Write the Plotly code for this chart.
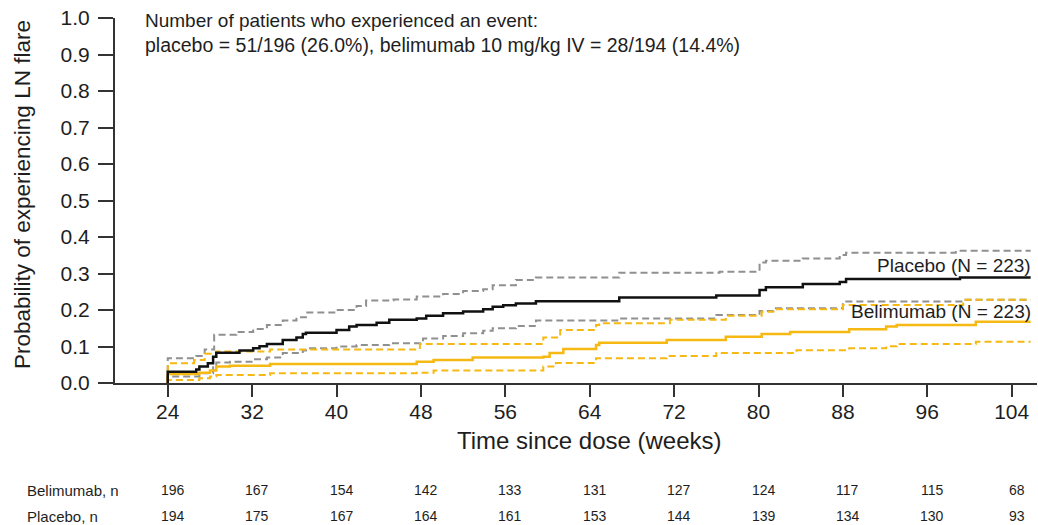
import plotly.graph_objects as go

# Kaplan-Meier cumulative probability of LN flare (step functions), weeks since dose
placebo_wk = [24, 24, 26.7, 27.0, 27.8, 28.3, 28.6, 30.8, 32.1, 32.7, 33.4, 34.9, 36.2, 36.8, 37.1,
              40.0, 41.2, 41.9, 43.8, 45.0, 47.6, 48.5, 50.1, 52.0, 53.9, 54.8, 55.8, 57.0, 58.9,
              66.8, 76.0, 80.1, 80.7, 84.2, 87.7, 88.3, 99.1, 105.8]
placebo_p = [0, 0.031, 0.037, 0.045, 0.054, 0.072, 0.083, 0.089, 0.095, 0.101, 0.107, 0.118, 0.125,
             0.134, 0.138, 0.145, 0.155, 0.159, 0.165, 0.173, 0.177, 0.184, 0.191, 0.196, 0.202,
             0.209, 0.213, 0.218, 0.224, 0.234, 0.240, 0.255, 0.262, 0.271, 0.277, 0.285, 0.289, 0.289]

placebo_hi_wk = [24, 24, 26.7, 27.5, 28.4, 30.5, 32.1, 33.4, 34.9, 36.2, 37.1, 40.0, 41.9, 42.8, 45.4,
                 47.6, 50.1, 52.0, 53.9, 54.8, 57.0, 58.9, 66.8, 76.3, 80.1, 80.7, 84.2, 87.7, 88.3,
                 98.7, 105.8]
placebo_hi_p = [0, 0.068, 0.074, 0.092, 0.132, 0.140, 0.148, 0.159, 0.171, 0.180, 0.193, 0.200, 0.211,
                0.226, 0.229, 0.237, 0.244, 0.252, 0.257, 0.268, 0.282, 0.289, 0.302, 0.305, 0.330,
                0.335, 0.341, 0.351, 0.357, 0.362, 0.362]

placebo_lo_wk = [24, 24, 27.0, 28.3, 28.6, 29.9, 32.1, 33.4, 34.9, 36.8, 37.1, 40.0, 41.9, 45.0, 48.2,
                 50.1, 52.0, 53.9, 54.8, 57.0, 58.9, 66.8, 76.0, 80.1, 81.4, 88.0, 99.4, 105.8]
placebo_lo_p = [0, 0.018, 0.027, 0.049, 0.056, 0.058, 0.065, 0.070, 0.082, 0.089, 0.095, 0.100, 0.104,
                0.109, 0.122, 0.129, 0.136, 0.143, 0.150, 0.156, 0.171, 0.177, 0.186, 0.197, 0.205,
                0.223, 0.228, 0.228]

belim_wk = [24, 24, 27.0, 28.0, 28.6, 29.9, 33.7, 47.6, 49.2, 52.9, 59.6, 60.2, 61.5, 64.6, 64.9,
            71.3, 76.9, 80.3, 83.0, 88.6, 92.1, 93.1, 100.6, 105.8]
belim_p = [0, 0.025, 0.028, 0.034, 0.045, 0.047, 0.052, 0.058, 0.063, 0.070, 0.072, 0.082, 0.093,
           0.104, 0.110, 0.118, 0.127, 0.134, 0.140, 0.147, 0.155, 0.159, 0.168, 0.168]

belim_hi_wk = [24, 24, 26.5, 27.5, 28.6, 33.7, 47.9, 59.6, 61.2, 64.6, 64.9, 71.6, 76.9, 80.3, 81.4,
               88.0, 99.4, 105.8]
belim_hi_p = [0, 0.054, 0.063, 0.080, 0.086, 0.092, 0.107, 0.125, 0.145, 0.159, 0.164, 0.173, 0.184,
              0.195, 0.202, 0.214, 0.228, 0.228]

belim_lo_wk = [24, 24, 27.0, 28.0, 28.6, 33.7, 47.6, 49.2, 59.6, 60.8, 64.6, 71.3, 76.0, 83.6, 88.6,
               92.1, 93.1, 100.6, 105.8]
belim_lo_p = [0, 0.008, 0.013, 0.018, 0.022, 0.027, 0.028, 0.034, 0.045, 0.055, 0.068, 0.074, 0.082,
              0.090, 0.095, 0.101, 0.107, 0.113, 0.113]

# Numbers at risk
risk_weeks = [24, 32, 40, 48, 56, 64, 72, 80, 88, 96, 104]
belim_n = [196, 167, 154, 142, 133, 131, 127, 124, 117, 115, 68]
placebo_n = [194, 175, 167, 164, 161, 153, 144, 139, 134, 130, 93]

ORANGE = "#F6B812"
GREY = "#909090"
BLACK = "#111111"
TEXT = "#1e1e1e"
FONT = "Liberation Sans, Arial, sans-serif"

fig = go.Figure()


def step(x, y, color, width, dash="solid"):
    fig.add_trace(go.Scatter(x=x, y=y, mode="lines", line_shape="hv",
                             line=dict(color=color, width=width, dash=dash),
                             hoverinfo="skip", showlegend=False))


step(placebo_hi_wk, placebo_hi_p, GREY, 2, "7px,4px")
step(placebo_lo_wk, placebo_lo_p, GREY, 2, "7px,4px")
step(belim_hi_wk, belim_hi_p, ORANGE, 2, "7px,4px")
step(belim_lo_wk, belim_lo_p, ORANGE, 2, "7px,4px")
step(belim_wk, belim_p, ORANGE, 2.5)
step(placebo_wk, placebo_p, BLACK, 2.5)

annotations = []

# Event summary text
annotations.append(dict(text="Number of patients who experienced an event:", xref="paper", yref="paper",
                        x=0.0304, y=1, xanchor="left", yanchor="middle", yshift=-2, showarrow=False,
                        font=dict(family=FONT, size=19, color=TEXT)))
annotations.append(dict(text="placebo = 51/196 (26.0%), belimumab 10 mg/kg IV = 28/194 (14.4%)",
                        xref="paper", yref="paper", x=0.0304, y=1, xanchor="left", yanchor="middle",
                        yshift=-27, showarrow=False, font=dict(family=FONT, size=19.5, color=TEXT)))

# Curve labels
annotations.append(dict(text="Placebo (N = 223)", xref="paper", yref="paper", x=1, y=0.323,
                        xanchor="right", yanchor="middle", xshift=-4, showarrow=False,
                        font=dict(family=FONT, size=19, color=TEXT)))
annotations.append(dict(text="Belimumab (N = 223)", xref="paper", yref="paper", x=1, y=0.195,
                        xanchor="right", yanchor="middle", xshift=-4, showarrow=False,
                        font=dict(family=FONT, size=19, color=TEXT)))

# Axis titles
annotations.append(dict(text="Probability of experiencing LN flare", xref="paper", yref="paper",
                        x=0, y=0.515, xshift=-93, textangle=-90, xanchor="center", yanchor="middle",
                        showarrow=False, font=dict(family=FONT, size=22.5, color=TEXT)))
annotations.append(dict(text="Time since dose (weeks)", xref="paper", yref="paper", x=0.5146, y=0,
                        yshift=-57, xanchor="center", yanchor="middle", showarrow=False,
                        font=dict(family=FONT, size=24, color=TEXT)))

# Numbers-at-risk table
for label, counts, ys in (("Belimumab, n", belim_n, -107), ("Placebo, n", placebo_n, -133)):
    annotations.append(dict(text=label, xref="paper", yref="paper", x=0, y=0, xshift=-90, yshift=ys,
                            xanchor="left", yanchor="middle", showarrow=False,
                            font=dict(family=FONT, size=15, color=TEXT)))
    for wk, n in zip(risk_weeks, counts):
        annotations.append(dict(text=str(n), xref="x", yref="paper", x=wk, y=0, xshift=5, yshift=ys,
                                xanchor="center", yanchor="middle", showarrow=False,
                                font=dict(family=FONT, size=14, color=TEXT)))

fig.update_layout(
    width=1038, height=525,
    margin=dict(l=115, r=1, t=18, b=142),
    paper_bgcolor="white", plot_bgcolor="white",
    showlegend=False,
    annotations=annotations,
    xaxis=dict(range=[19.0, 106.4], tickvals=risk_weeks, ticks="outside", ticklen=12, tickwidth=2,
               tickcolor="#333", showline=True, linewidth=2, linecolor="#333", showgrid=False,
               zeroline=False, tickfont=dict(family=FONT, size=21, color=TEXT), ticklabelstandoff=-3),
    yaxis=dict(range=[0, 1.0], dtick=0.1, tickformat=".1f", ticks="outside", ticklen=15, tickwidth=2,
               tickcolor="#333", showline=True, linewidth=2, linecolor="#333", showgrid=False,
               zeroline=False, tickfont=dict(family=FONT, size=21, color=TEXT), ticklabelstandoff=4),
)

fig.write_html("out.html")
